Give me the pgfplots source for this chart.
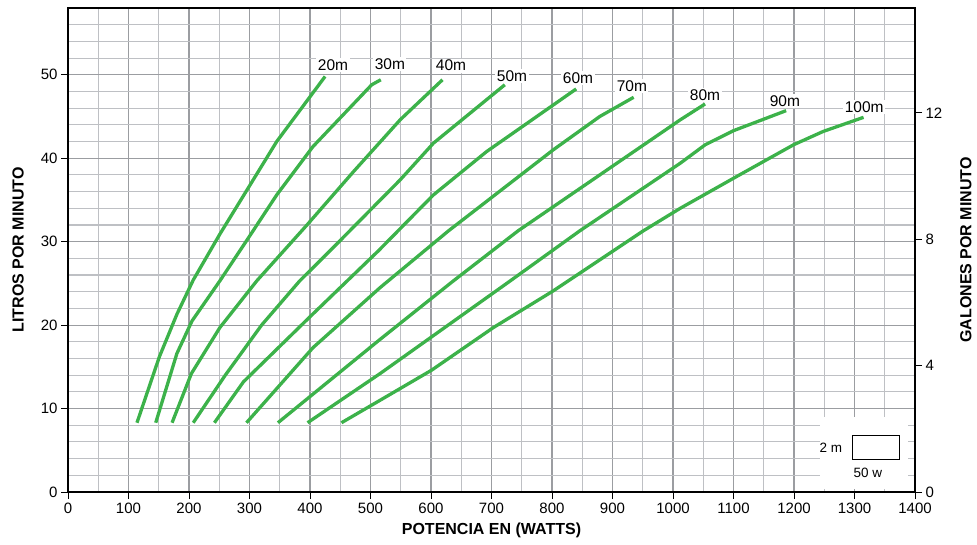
\documentclass[border=0pt]{standalone}
\usepackage{fontspec}
\setmainfont{Liberation Sans}
\usepackage{pgfplots}
\pgfplotsset{compat=1.18}
\usetikzlibrary{calc}
\definecolor{curve}{RGB}{60,178,74}
\definecolor{gridmaj}{RGB}{155,157,161}
\definecolor{gridmin}{RGB}{190,192,196}
\begin{document}
\begin{tikzpicture}
\pgfplotsset{
  every axis/.append style={
    scale only axis, width=847pt, height=484pt,
    /pgf/number format/assume math mode=true,
    /pgf/number format/1000 sep={},
    ticklabel style={font=\fontsize{15}{17}\selectfont},
    axis line style={line width=1.6pt},
    tick style={black, line width=0.9pt},
    tick align=outside, major tick length=7pt, minor tick length=0pt,
  },
  gcurve/.style={curve, line width=3.3pt, line join=round, solid, mark=none},
}
\begin{axis}[
  xmin=0, xmax=1400, ymin=0, ymax=58,
  xtick={0,100,...,1400}, minor xtick={50,150,...,1350},
  ytick={0,10,...,50}, minor ytick={2,4,6,8,12,14,16,18,22,24,26,28,32,34,36,38,42,44,46,48,52,54,56},
  xtick pos=left, ytick pos=left,
  grid=both,
  major grid style={draw=gridmaj, line width=1.1pt},
  minor grid style={draw=gridmin, line width=1.1pt},
  xlabel={\fontsize{16}{18}\selectfont\bfseries POTENCIA EN (WATTS)},
  xlabel style={at={(axis description cs:0.5,0)}, anchor=center, yshift=-38pt},
  ylabel={\fontsize{16}{18}\selectfont\bfseries LITROS POR MINUTO},
  ylabel style={at={(axis description cs:-0.059,0.5)}, anchor=center},
]
\addplot[gcurve] coordinates {(114,8.3) (151,16.2) (180,21.3) (207,25.4) (251,30.9) (301,36.8) (345,42.0) (425,49.8)};
\addplot[gcurve] coordinates {(145,8.3) (180,16.6) (205,20.5) (251,25.3) (295,30.1) (345,35.6) (405,41.4) (502,48.8) (517,49.4)};
\addplot[gcurve] coordinates {(172,8.3) (204,14.2) (251,19.7) (312,25.3) (395,32.0) (472,38.4) (549,44.6) (619,49.4)};
\addplot[gcurve] coordinates {(207,8.3) (260,14.0) (320,20.0) (383,25.3) (433,28.9) (549,37.4) (604,41.8) (722,48.8)};
\addplot[gcurve] coordinates {(242,8.3) (290,13.2) (400,21.0) (513,28.9) (604,35.6) (692,40.8) (840,48.3)};
\addplot[gcurve] coordinates {(295,8.3) (405,17.3) (516,24.5) (629,31.3) (802,41.0) (879,45.0) (935,47.3)};
\addplot[gcurve] coordinates {(347,8.3) (516,18.3) (637,25.3) (744,31.3) (1012,44.6) (1053,46.5)};
\addplot[gcurve] coordinates {(396,8.3) (516,14.2) (731,25.3) (846,31.3) (1012,39.4) (1053,41.6) (1100,43.3) (1187,45.7)};
\addplot[gcurve] coordinates {(452,8.3) (516,11.0) (601,14.6) (703,19.7) (802,24.1) (951,31.3) (1012,34.0) (1105,37.8) (1199,41.6) (1248,43.2) (1315,44.9)};
\begin{scope}[every node/.style={fill=white, inner sep=1.5pt, font=\fontsize{15.5}{17}\selectfont}]
\node at (axis cs:438,51.2) {20m};
\node at (axis cs:532,51.3) {30m};
\node at (axis cs:633,51.1) {40m};
\node at (axis cs:734,49.8) {50m};
\node at (axis cs:843,49.6) {60m};
\node at (axis cs:932,48.6) {70m};
\node at (axis cs:1053,47.6) {80m};
\node at (axis cs:1185,46.8) {90m};
\node at (axis cs:1316,46.1) {100m};
\end{scope}
\fill[white] (axis cs:1243,0.35) rectangle (axis cs:1388,9);
\draw[line width=1.2pt] (axis cs:1297,3.9) rectangle (axis cs:1375,6.8);
\node[font=\fontsize{13.5}{15}\selectfont] at (axis cs:1261,5.3) {2 m};
\node[font=\fontsize{13.5}{15}\selectfont] at (axis cs:1322,2.3) {50 w};
\end{axis}
\begin{axis}[
  xmin=0, xmax=1400, ymin=0, ymax=15.322,
  hide x axis,
  axis y line*=right,
  ytick={0,4,8,12},
  ylabel={\fontsize{16}{18}\selectfont\bfseries GALONES POR MINUTO},
  ylabel style={at={(axis description cs:1.060,0.5)}, anchor=center, rotate=0},
]
\end{axis}
\pgfresetboundingbox
\path[use as bounding box] ($(current axis.south west)+(-68pt,-52pt)$) rectangle ($(current axis.north east)+(62pt,8pt)$);
\end{tikzpicture}
\end{document}
